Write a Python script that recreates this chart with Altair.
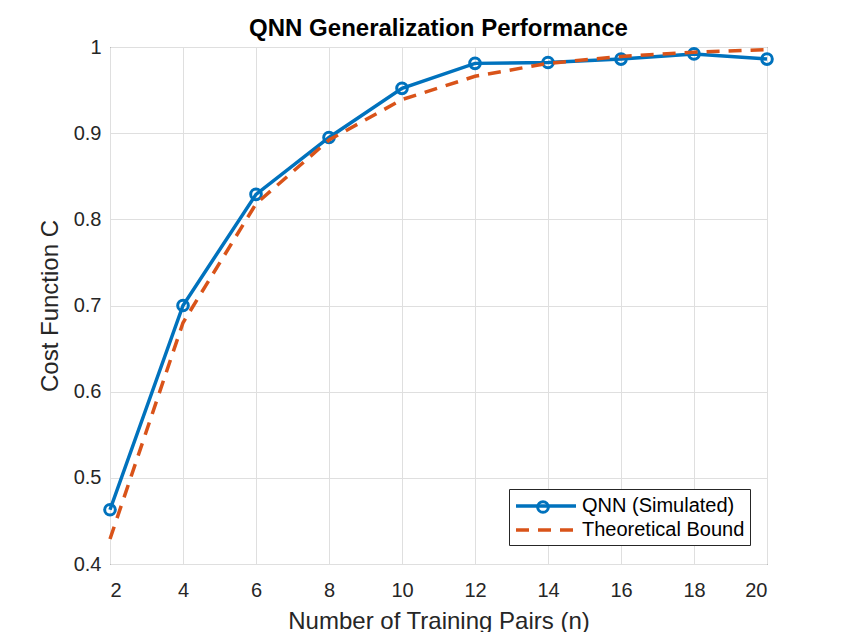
import altair as alt
import pandas as pd

# ---- data ----
n_pairs = [2, 4, 6, 8, 10, 12, 14, 16, 18, 20]
qnn_simulated = [0.463, 0.700, 0.829, 0.895, 0.952, 0.981, 0.982, 0.986, 0.992, 0.986]
theoretical_bound = [0.429, 0.680, 0.818, 0.892, 0.939, 0.966, 0.981, 0.989, 0.994, 0.997]
series_names = ["QNN (Simulated)", "Theoretical Bound"]
series_colors = ["#0072BD", "#D95319"]
x_ticks = [2, 4, 6, 8, 10, 12, 14, 16, 18, 20]
y_ticks = [0.4, 0.5, 0.6, 0.7, 0.8, 0.9, 1.0]

df = pd.DataFrame({
    "n": n_pairs + n_pairs,
    "C": qnn_simulated + theoretical_bound,
    "series": [series_names[0]] * len(n_pairs) + [series_names[1]] * len(n_pairs),
})

FONT = "Liberation Sans"
TXT = "#262626"
LW = 3.5

color_scale = alt.Scale(domain=series_names, range=series_colors)
dash_scale = alt.Scale(domain=series_names, range=[[1, 0], [13, 9]])
shape_scale = alt.Scale(domain=[series_names[0]], range=["circle"])

x_enc = alt.X("n:Q", scale=alt.Scale(domain=[2, 20], nice=False),
              axis=alt.Axis(values=x_ticks, title="Number of Training Pairs (n)",
                            format="d", labelPadding=16, titlePadding=9))
y_enc = alt.Y("C:Q", scale=alt.Scale(domain=[0.4, 1.0], nice=False, zero=False),
              axis=alt.Axis(values=y_ticks, title="Cost Function C",
                            format=".1~f", labelPadding=9, titlePadding=11))

legend_lines = alt.Legend(
    title=None, orient="none", legendX=399, legendY=442,
    padding=5, strokeColor=TXT, fillColor="white",
    labelFontSize=20, labelFont=FONT, labelColor="#000000", labelLimit=400,
    symbolType="M-1,0H5", symbolSize=400, symbolStrokeWidth=LW,
    symbolFillColor="transparent", labelOffset=44,
)

legend_marker = alt.Legend(
    title=None, orient="none", legendX=426, legendY=453,
    padding=0, labelExpr="''", labelFontSize=1, labelOffset=0,
    symbolSize=113, symbolStrokeWidth=3, symbolStrokeColor="#0072BD",
    symbolFillColor="transparent", zindex=2,
)

base = alt.Chart(df)

qnn_line = base.transform_filter(alt.datum.series == series_names[0]).mark_line(
    strokeWidth=LW
).encode(
    x=x_enc, y=y_enc,
    color=alt.Color("series:N", scale=color_scale, legend=legend_lines),
)

qnn_points = base.transform_filter(alt.datum.series == series_names[0]).mark_point(
    size=113, strokeWidth=3, filled=False, opacity=1
).encode(
    x=x_enc, y=y_enc,
    color=alt.Color("series:N", scale=color_scale, legend=legend_lines),
    shape=alt.Shape("series:N", scale=shape_scale, legend=legend_marker),
)

theory_line = base.transform_filter(alt.datum.series == series_names[1]).mark_line(
    strokeWidth=LW
).encode(
    x=x_enc, y=y_enc,
    color=alt.Color("series:N", scale=color_scale, legend=legend_lines),
    strokeDash=alt.StrokeDash("series:N", scale=dash_scale, legend=legend_lines),
)

chart = alt.layer(qnn_line, qnn_points, theory_line).properties(
    width=657, height=517,
    background="white",
    title=alt.Title("QNN Generalization Performance", fontSize=24, font=FONT,
                    fontWeight="bold", color="#000000", offset=6, dy=10,
                    frame="group"),
    autosize=alt.AutoSizeParams(type="none"),
    padding={"left": 102, "top": 39, "right": 70, "bottom": 68},
).configure_view(
    stroke=TXT, strokeWidth=1
).configure_axis(
    grid=True, gridColor="#dfdfdf", gridWidth=1,
    domain=False, ticks=False, tickSize=0,
    labelFont=FONT, labelFontSize=20, labelColor=TXT,
    titleFont=FONT, titleFontSize=24, titleFontWeight="normal", titleColor=TXT,
)

chart.save("out.html", embed_options={"renderer": "svg", "actions": False})
